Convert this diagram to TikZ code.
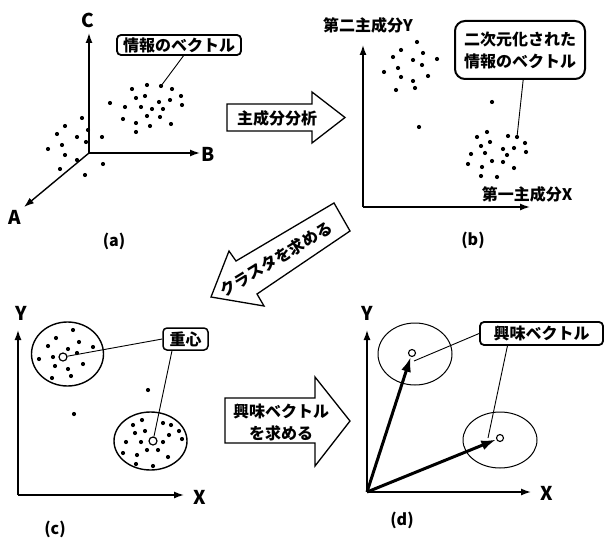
\documentclass[tikz,border=0pt]{standalone}
\usepackage{fontspec}
\setmainfont{Noto Sans CJK JP}
\usetikzlibrary{arrows.meta}
\tikzset{
  jp/.style={font=\bfseries\fontsize{16}{22}\selectfont},
  axlbl/.style={font=\bfseries\fontsize{19}{21}\selectfont, inner sep=0},
  axis/.style={line width=1.4pt, -{Latex[length=10pt,width=7pt]}},
  callout/.style={draw, rounded corners=4pt, line width=1.8pt, inner sep=0, jp},
  bigarrow/.style={draw, line width=1.3pt, line join=miter},
  leader/.style={line width=0.9pt},
  vec/.style={line width=3pt, -{Latex[length=15pt,width=10pt]}},
  ctr/.style={draw, circle, fill=white, line width=1.2pt, minimum size=8pt, inner sep=0},
  ctrd/.style={draw, circle, fill=white, line width=1.1pt, minimum size=7pt, inner sep=0},
  plbl/.style={font=\bfseries\fontsize{16}{18}\selectfont, inner sep=0},
}
\begin{document}
\begin{tikzpicture}[x=1pt,y=-1pt]
\useasboundingbox (0,0) rectangle (604,540);

% ---------------- (a) ----------------
\coordinate (oa) at (89,153);
\coordinate (ta) at (24,207);
\coordinate (tb) at (200,153);
\coordinate (tc) at (89,33);
\draw[axis] (oa) -- (tc);
\draw[axis] (oa) -- (tb);
\draw[axis] (oa) -- (ta);
\node[axlbl] (lc) at (88,20) {C};
\node[axlbl] (lb) at (208,154) {B};
\node[axlbl] (la) at (15,217) {A};
\foreach \p in {(132,89),(147,85),(161,86),(172,89),(181,96),(136,98),(145,96),(159,102),(170,100),(182,105),
  (110,103),(125,107),(141,107),(152,109),(163,109),(147,116),(160,117),(123,119),(136,123),(150,126),(171,124),(136,132),
  (82,118),(65,126),(57,134),(77,137),(88,130),(102,137),(62,145),(86,142),(48,149),(65,155),(77,160),(60,169),(85,175),(103,164)}
  \fill \p circle (2.1pt);
\coordinate (da) at (161,86);
\node[callout, minimum width=124pt, minimum height=20pt] (boxa) at (179,45) {情報のベクトル};
\draw[leader] (boxa.-68) -- (da);
\node[plbl] (capa) at (114,241) {(a)};

% ---------------- arrow 1 ----------------
\draw[bigarrow] (227,104) -- (312,104) -- (312,92) -- (345,117.5) -- (312,143) -- (312,131) -- (227,131) -- cycle;
\node[jp, inner sep=0] (t1) at (277,118) {主成分分析};

% ---------------- (b) ----------------
\coordinate (ob) at (363,207);
\coordinate (tbx) at (530,207);
\coordinate (tby) at (363,45);
\draw[axis] (ob) -- (tby);
\draw[axis] (ob) -- (tbx);
\node[jp, inner sep=0] (lby) at (368,25) {第二主成分Y};
\node[jp, inner sep=0] (lbx) at (527,194) {第一主成分X};
\foreach \p in {(417,42),(401,50),(423,53),(393,57),(413,60),(437,59),(422,65),(384,72),(398,68),(401,77),(428,76),(413,81),(415,88),(396,90),
  (492,102),(419,127),
  (487,132),(477,137),(508,136),(517,137),(481,146),(490,142),(525,143),(503,149),(514,148),(471,154),(485,153),(507,155),(526,152),
  (492,161),(468,164),(482,167),(503,162),(514,168),(481,176),(497,177)}
  \fill \p circle (2.1pt);
\coordinate (db) at (517,137);
\node[callout, rounded corners=10pt, line width=2pt, minimum width=130pt, minimum height=58pt, align=center] (boxb) at (520,50) {二次元化された\\情報のベクトル};
\draw[leader] (boxb.-84) -- (db);
\node[plbl] (capb) at (473,240) {(b)};

% ---------------- arrow 2 ----------------
\draw[bigarrow] (211,297) -- (229,251) -- (236,261) -- (334,203) -- (350,231) -- (257,294) -- (264,306) -- cycle;
\node[jp, inner sep=0, rotate=31.4] (t2) at (276,259) {クラスタを求める};

% ---------------- (c) ----------------
\coordinate (oc) at (18,495);
\coordinate (tcx) at (184,495);
\coordinate (tcy) at (18,330);
\draw[axis] (oc) -- (tcy);
\draw[axis] (oc) -- (tcx);
\node[axlbl] (lcy) at (21,313) {Y};
\node[axlbl] (lcx) at (200,497) {X};
\draw[line width=1.4pt] (67.5,354) ellipse [x radius=36pt, y radius=32pt];
\draw[line width=1.4pt] (150.5,441) ellipse [x radius=36.5pt, y radius=29pt];
\foreach \p in {(73,330),(56,338),(79,342),(48,346),(68,349),(93,347),(53,357),(77,353),(39,359),(55,366),(83,364),(68,369),(71,376),(52,378),
  (148,390),(74,414),
  (133,425),(142,420),(163,423),(171,425),(179,431),(135,433),(145,431),(169,435),(126,442),(141,442),(163,442),(182,439),
  (147,450),(158,450),(123,453),(137,455),(168,457),(136,464),(153,466)}
  \fill \p circle (2.1pt);
\node[ctr] (c1) at (63,357) {};
\node[ctr] (c2) at (153,441) {};
\node[callout, line width=1.5pt, minimum width=45pt, minimum height=22pt] (boxc) at (185.5,339) {重心};
\draw[leader] (boxc.west) -- (c1);
\draw[leader] (boxc.-139) -- (c2);
\node[plbl] (capc) at (55,529) {(c)};

% ---------------- arrow 3 ----------------
\draw[bigarrow] (225,398) -- (315,398) -- (315,377) -- (350,421) -- (315,466) -- (315,443) -- (225,443) -- cycle;
\node[jp, inner sep=0, align=center] (t3) at (281,422) {興味ベクトル\\を求める};

% ---------------- (d) ----------------
\coordinate (od) at (367,492);
\coordinate (tdx) at (531,492);
\coordinate (tdy) at (367,330);
\draw[axis] (od) -- (tdy);
\draw[axis] (od) -- (tdx);
\node[axlbl] (ldy) at (367,313) {Y};
\node[axlbl] (ldx) at (547,493) {X};
\draw[line width=1pt] (415,354) ellipse [x radius=37pt, y radius=31pt];
\draw[line width=1pt] (500,440) ellipse [x radius=37pt, y radius=28pt];
\node[ctrd] (p1) at (412,353) {};
\node[ctrd] (p2) at (500,438) {};
\draw[vec] (od) -- (p1);
\draw[vec] (od) -- (p2);
\coordinate (e1) at (414,361);
\coordinate (e2) at (488,438);
\node[callout, minimum width=123pt, minimum height=23pt] (boxd) at (541.5,333.5) {興味ベクトル};
\draw[leader] (boxd.west) -- (e1);
\draw[leader] (boxd.-160) -- (e2);
\node[plbl] (capd) at (402,520) {(d)};
\end{tikzpicture}
\end{document}
